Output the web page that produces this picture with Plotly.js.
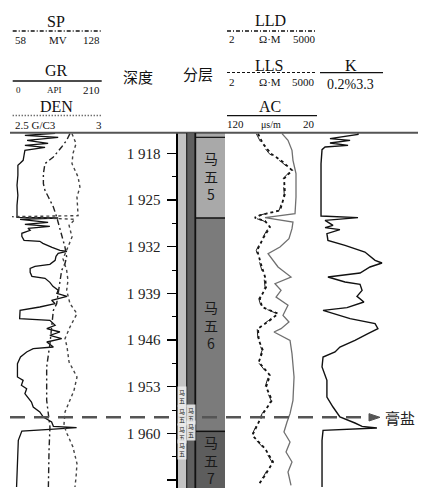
<!DOCTYPE html>
<html><head><meta charset="utf-8">
<script src="https://cdn.plot.ly/plotly-3.0.1.min.js"></script>
<style>html,body{margin:0;padding:0;background:#fff}#chart{width:421px;height:488px}</style>
</head><body><div id="chart"></div>
<script>
// ---- depth axis ----
const depthTicks = [1918, 1925, 1932, 1939, 1946, 1953, 1960, 1967];
const depthTickText = ['1 918', '1 925', '1 932', '1 939', '1 946', '1 953', '1 960', '1 967'];
const depthMinor = [1921.5, 1928.5, 1935.5, 1942.5, 1949.5, 1956.5, 1963.5];

// ---- formations ----
const formNames = ['马五5', '马五6', '马五7'];
const formTop = [1914.95, 1927.7, 1959.7];
const formBottom = [1927.7, 1959.7, 1968.2];
const formColors = ['#a9a9a9', '#7b7b7b', '#5d5d5d'];

// ---- marker ----
const markerDepth = 1957.6;
const markerLabel = '膏盐';

// ---- GR (API) ----
const depthGR = [1915.0,1915.3,1915.6,1916.05,1916.5,1916.8,1917.1,1917.55,1918.3,1919.05,1919.5,1919.8,1921.3,1922.8,1924.3,1925.8,1927.3,1927.6,1927.7,1927.9,1928.35,1928.65,1928.95,1929.25,1929.55,1930.0,1930.45,1931.05,1931.2,1931.5,1932.1,1932.55,1932.7,1933.0,1933.45,1934.05,1934.65,1934.95,1935.25,1935.85,1936.45,1936.75,1937.35,1937.95,1938.55,1939.0,1939.45,1940.05,1940.55,1941.05,1941.55,1942.8,1943.05,1943.8,1944.3,1944.8,1945.3,1945.8,1946.3,1947.05,1947.3,1947.8,1948.55,1949.55,1951.55,1952.05,1952.8,1953.3,1954.05,1954.8,1955.3,1956.05,1956.8,1957.55,1958.3,1958.95,1959.15,1959.4,1959.65,1961.05,1964.05,1968.05];
const GR = [103,34,110,39,87,34,80,34,32,30,23,18,18,16,18,16,16,16,110,23,87,34,91,41,46,27,27,32,68,75,96,114,130,110,105,103,91,57,46,46,50,80,91,98,110,107,130,95,103,68,23,22,91,103,84,114,91,118,84,99,53,38,24,17,17,30,26,38,34,42,49,53,68,76,95,99,152,91,27,19,17,15];

// ---- SP (mV) ----
const depthSP = [1915.05,1916.05,1917.05,1918.55,1919.55,1921.05,1922.55,1923.55,1924.55,1926.05,1927.55,1928.55,1930.05,1932.05,1933.55,1934.55,1935.55,1937.05,1938.55,1940.55,1941.55,1944.05,1946.55,1950.05,1955.05,1959.05,1962.55,1968.05];
const SP = [103.6,101.1,97.3,91,84.6,83.4,83.4,84.6,87.2,91,93.5,94.8,97.3,99.8,101.1,99.8,97.3,96,94.8,93.5,91,89.7,88.4,85.9,85.9,88.4,87.7,87.2];

// ---- DEN (g/cm3) ----
const depthDEN = [1915.05,1916.55,1918.05,1919.55,1921.55,1923.05,1924.55,1926.55,1927.35,1927.5,1927.9,1928.8,1930.55,1932.05,1933.8,1935.55,1937.05,1938.55,1940.55,1942.05,1944.05,1945.8,1947.05,1949.3,1951.55,1953.55,1955.05,1956.8,1958.8,1960.05,1962.05,1964.55,1966.55,1968.05];
const DEN = [2.837,2.859,2.842,2.837,2.870,2.880,2.864,2.870,2.870,2.511,2.853,2.821,2.837,2.815,2.788,2.808,2.815,2.808,2.826,2.864,2.826,2.799,2.810,2.821,2.864,2.848,2.826,2.799,2.793,2.810,2.842,2.864,2.859,2.853];

// ---- LLD / LLS (ohm.m) ----
const depthRes = [1915.05,1916.55,1918.05,1919.3,1920.55,1921.8,1924.05,1926.55,1927.3,1927.65,1928.15,1929.05,1930.8,1932.55,1934.55,1936.55,1938.05,1939.8,1941.05,1942.05,1943.05,1944.3,1946.05,1947.55,1949.3,1951.3,1953.05,1955.05,1957.05,1958.55,1960.3,1962.3,1964.3,1966.3,1967.8];
const LLD = [28,43,88,250,560,275,300,195,33,21,52,80,43,26,36,52,57,33,40,162,80,28,30,43,30,80,57,96,43,28,17,52,105,52,28];
const LLS = [24,38,75,220,520,250,280,180,30,19,47,72,40,24,33,47,52,30,37,150,72,26,28,40,28,72,52,88,40,26,16,48,95,48,26];

// ---- AC (us/m) ----
const depthAC = [1915.05,1916.05,1917.55,1919.05,1921.05,1924.55,1927.05,1927.65,1928.3,1929.3,1930.8,1932.05,1933.05,1933.8,1935.05,1936.55,1937.55,1938.55,1939.55,1940.8,1942.3,1943.3,1944.3,1944.8,1946.05,1948.05,1951.55,1955.05,1957.05,1958.3,1959.8,1961.3,1962.8,1964.3,1965.8,1967.8];
const AC = [59.3,52.6,48.1,47,43.6,43.6,44.7,78.4,47,48.1,51.5,61.6,75,70.6,63.8,49.2,67.2,60.4,66,52.6,58.2,51.5,60.4,68.3,50.3,48.1,45.8,47,50.3,53.7,57.1,50.3,54.8,48.1,52.6,49.2];

// ---- K (%) ----
const depthK = [1914.95,1915.15,1915.8,1916.05,1916.45,1916.8,1917.05,1917.45,1919.55,1924.55,1927.4,1927.65,1928.05,1928.8,1929.15,1929.45,1930.05,1931.05,1931.8,1932.8,1934.05,1934.45,1935.05,1935.95,1936.55,1937.3,1937.65,1938.55,1939.45,1940.3,1941.15,1941.55,1942.3,1942.8,1943.55,1944.3,1945.05,1946.05,1947.05,1947.8,1948.55,1950.05,1952.05,1954.55,1956.05,1957.55,1958.45,1958.95,1959.2,1959.55,1961.05,1968.05];
const K = [2.07,2.07,0.69,1.68,0.69,1.58,0.45,0.30,0.25,0.25,0.25,2.07,0.45,0.84,0.45,1.18,0.54,0.59,1.43,2.41,2.91,3.25,2.66,2.17,0.59,1.43,2.17,2.27,2.02,2.36,1.53,0.35,1.18,1.68,2.91,3.05,2.56,1.92,1.18,0.94,0.35,0.30,0.54,0.54,0.84,1.18,1.92,2.27,3.0,0.35,0.30,0.30];

// ---- layout helpers ----
const W = 421, H = 488, TOP = 133;
const px = x => x / W;
const py = y => (H - y) / (H - TOP);
const SERIF = 'Liberation Serif, Times New Roman, serif';
const CJK = 'Noto Sans CJK SC, sans-serif';

const traces = [
  {x: GR, y: depthGR, xaxis: 'x', yaxis: 'y', mode: 'lines', line: {color: '#111', width: 1.3}},
  {x: SP, y: depthSP, xaxis: 'x2', yaxis: 'y', mode: 'lines', line: {color: '#222', width: 1.4, dash: '6px,3px,2px,3px'}},
  {x: DEN, y: depthDEN, xaxis: 'x3', yaxis: 'y', mode: 'lines', line: {color: '#444', width: 1.4, dash: 'dot'}},
  {x: LLD, y: depthRes, xaxis: 'x4', yaxis: 'y', mode: 'lines', line: {color: '#111', width: 1.8, dash: 'dot'}},
  {x: LLS, y: depthRes, xaxis: 'x5', yaxis: 'y', mode: 'lines', line: {color: '#222', width: 1.0, dash: 'dash'}},
  {x: AC, y: depthAC, xaxis: 'x6', yaxis: 'y', mode: 'lines', line: {color: '#707070', width: 1.3}},
  {x: K, y: depthK, xaxis: 'x7', yaxis: 'y', mode: 'lines', line: {color: '#111', width: 1.4}}
];

const hid = {visible: false, showgrid: false, zeroline: false, fixedrange: true};
const t1 = [px(10), px(102)], t2 = [px(228), px(317)], t3 = [px(320), px(383)];

const shapes = [];
const annotations = [];
function hline(x0, x1, y, dash, width, color) {
  shapes.push({type: 'line', xref: 'paper', yref: 'paper', x0: px(x0), x1: px(x1), y0: py(y), y1: py(y),
    line: {color: color || '#111', width: width || 1.2, dash: dash || 'solid'}});
}
function txt(t, x, y, size, family, xanchor, color) {
  annotations.push({text: t, xref: 'paper', yref: 'paper', x: px(x), y: py(y), xanchor: xanchor || 'center', yanchor: 'middle',
    showarrow: false, font: {family: family || SERIF, size: size, color: color || '#111'}});
}

// header: track 1
txt('SP', 56, 22, 16); hline(12.7, 101.7, 31, '4px,2px,1px,2px', 1.3);
txt('58', 13, 40, 11, SERIF, 'left'); txt('MV', 58, 40, 11); txt('128', 101.7, 40, 11, SERIF, 'right');
txt('GR', 56, 70.5, 16); hline(12.7, 101.7, 81, 'solid', 1.3);
txt('0', 14, 90, 9, SERIF, 'left'); txt('API', 54, 90, 9); txt('210', 101.7, 90, 11, SERIF, 'right');
txt('DEN', 56, 106, 16); hline(12.7, 101.7, 115.5, '1px,2px', 1.3, '#333');
txt('2.5 G/C3', 13, 125, 11, SERIF, 'left'); txt('3', 99, 125, 11, SERIF, 'center');
// header: depth / layer
txt('深度', 138, 76, 15, CJK); txt('分层', 198, 73, 15, CJK);
// header: track 2
txt('LLD', 270, 21, 16); hline(227, 316, 31, '4px,2px,1px,2px', 1.3);
txt('2', 227, 39, 11, SERIF, 'left'); txt('Ω·M', 270, 39, 11); txt('5000', 318, 39, 11, SERIF, 'right');
txt('LLS', 269, 65, 16); hline(227, 316, 72.5, '3px,2px', 1.2);
txt('2', 227, 81.5, 11, SERIF, 'left'); txt('Ω·M', 270, 81.5, 11); txt('5000', 317, 81.5, 11, SERIF, 'right');
txt('AC', 270, 106, 16); hline(227, 317, 115.7, 'solid', 1.3);
txt('120', 225, 124, 11, SERIF, 'left'); txt('μs/m', 271, 124, 10); txt('20', 317, 124, 11, SERIF, 'right');
// header: track 3
txt('K', 351, 65, 16); hline(320, 383, 72.7, 'solid', 1.3);
txt('0.2%3.3', 350, 84.5, 14);
// top border line
hline(10, 418, 132.8, 'solid', 2, '#555');

// depth column strips
shapes.push({type: 'rect', xref: 'paper', yref: 'paper', x0: px(177.5), x1: px(186.5), y0: 0, y1: 1, layer: 'below', line: {width: 0}, fillcolor: '#c3c3c3'});
shapes.push({type: 'rect', xref: 'paper', yref: 'paper', x0: px(186.5), x1: px(195), y0: 0, y1: 1, layer: 'below', line: {width: 0}, fillcolor: '#5f5f5f'});
shapes.push({type: 'line', xref: 'paper', yref: 'paper', x0: px(186.7), x1: px(186.7), y0: 0, y1: 1, line: {color: '#222', width: 1.2}});
shapes.push({type: 'line', xref: 'paper', yref: 'paper', x0: px(195.3), x1: px(195.3), y0: 0, y1: 1, line: {color: '#111', width: 1.8}});

// formations
formNames.forEach((n, i) => {
  shapes.push({type: 'rect', xref: 'paper', yref: 'y', x0: px(196), x1: px(225), y0: formTop[i], y1: formBottom[i],
    layer: 'below', line: {width: 0}, fillcolor: formColors[i]});
  if (i > 0) shapes.push({type: 'line', xref: 'paper', yref: 'y', x0: px(196), x1: px(225), y0: formTop[i], y1: formTop[i],
    line: {color: '#111', width: 1.5}});
  const chars = Array.from(n);
  annotations.push({text: chars.join('<br>'), xref: 'paper', yref: 'y', x: px(211), y: (formTop[i] + formBottom[i]) / 2,
    xanchor: 'center', yanchor: 'middle', showarrow: false, font: {family: CJK, size: 14, color: '#1a1a1a'}});
});
// little marks at top of formation column
shapes.push({type: 'line', xref: 'paper', yref: 'y', x0: px(196), x1: px(225), y0: 1915.6, y1: 1915.6, line: {color: '#111', width: 1.2}});

// small sublayer labels in the thin columns
[[181.8, 1954.4], [181.8, 1957.3], [181.8, 1960.0], [181.8, 1962.4], [190.8, 1957.2], [190.8, 1959.6]].forEach(p => {
  annotations.push({text: '马<br>五', xref: 'paper', yref: 'y', x: px(p[0]), y: p[1], xanchor: 'center', yanchor: 'middle',
    showarrow: false, font: {family: CJK, size: 6, color: '#222'}, bgcolor: 'rgba(235,235,235,0.9)'});
});

// marker line + arrow
shapes.push({type: 'line', xref: 'paper', yref: 'y', x0: px(10), x1: px(370), y0: markerDepth, y1: markerDepth,
  layer: 'above', line: {color: '#555', width: 2.5, dash: '15px,9px'}});
shapes.push({type: 'path', xref: 'paper', yref: 'y', layer: 'above',
  path: `M ${px(369)},${markerDepth - 0.55} L ${px(380)},${markerDepth} L ${px(369)},${markerDepth + 0.55} Z`,
  fillcolor: '#555', line: {color: '#555', width: 1}});
annotations.push({text: markerLabel, xref: 'paper', yref: 'y', x: px(383), y: markerDepth, xanchor: 'left', yanchor: 'middle',
  showarrow: false, font: {family: CJK, size: 15, color: '#222'}});

const layout = {
  width: W, height: H,
  margin: {l: 0, r: 0, t: TOP, b: 0, pad: 0},
  paper_bgcolor: '#fff', plot_bgcolor: 'rgba(0,0,0,0)',
  showlegend: false,
  yaxis: {range: [1968.2, 1914.95], anchor: 'free', position: px(176.6), side: 'left',
    showline: true, linecolor: '#000', linewidth: 2,
    ticks: 'outside', ticklen: 9, tickwidth: 1.3, tickcolor: '#000',
    tickmode: 'array', tickvals: depthTicks, ticktext: depthTickText, ticklabelstandoff: 3,
    tickfont: {family: SERIF, size: 15, color: '#222'},
    minor: {tickmode: 'array', tickvals: depthMinor, ticks: 'outside', ticklen: 4, tickcolor: '#000', tickwidth: 1},
    showgrid: false, zeroline: false, fixedrange: true},
  xaxis: Object.assign({domain: t1, range: [0, 210], anchor: 'y'}, hid),
  xaxis2: Object.assign({overlaying: 'x', range: [58, 128], anchor: 'y'}, hid),
  xaxis3: Object.assign({overlaying: 'x', range: [2.5, 3], anchor: 'y'}, hid),
  xaxis4: Object.assign({domain: t2, type: 'log', range: [Math.log10(2), Math.log10(5000)], anchor: 'y'}, hid),
  xaxis5: Object.assign({overlaying: 'x4', type: 'log', range: [Math.log10(2), Math.log10(5000)], anchor: 'y'}, hid),
  xaxis6: Object.assign({overlaying: 'x4', range: [120, 20], anchor: 'y'}, hid),
  xaxis7: Object.assign({domain: t3, range: [0.2, 3.3], anchor: 'y'}, hid),
  shapes: shapes,
  annotations: annotations
};

Plotly.newPlot('chart', traces, layout, {displayModeBar: false, staticPlot: true});
</script>
</body></html>
